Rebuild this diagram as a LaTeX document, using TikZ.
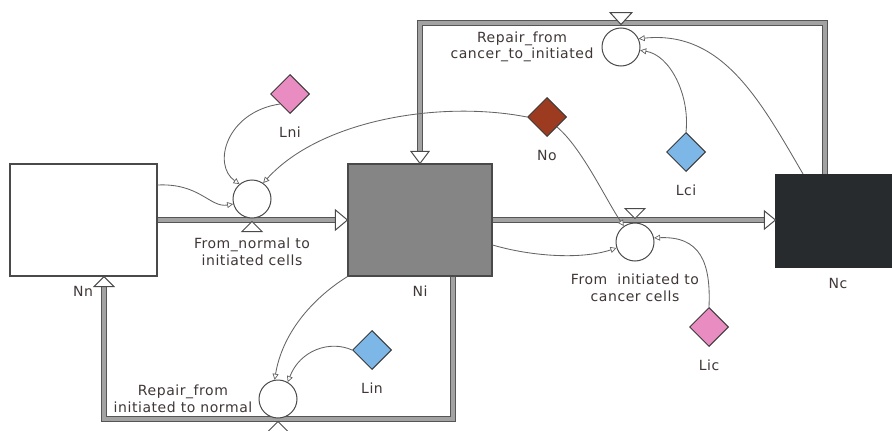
\documentclass[tikz,border=0pt]{standalone}
\usepackage{fontspec}
\setmainfont{DejaVu Sans}[LetterSpace=4]
\usetikzlibrary{shapes.geometric,arrows.meta,calc}

\definecolor{txt}{HTML}{403636}
\definecolor{edge}{HTML}{4A4A4A}
\definecolor{pipeedge}{HTML}{555555}
\definecolor{pipefill}{HTML}{A2A2A2}
\definecolor{conncol}{HTML}{646464}
\definecolor{stockgray}{HTML}{858585}
\definecolor{stockdark}{HTML}{272B2D}
\definecolor{auxpink}{HTML}{E98CC2}
\definecolor{auxblue}{HTML}{7DB7E8}
\definecolor{auxbrown}{HTML}{9C3B1F}

\tikzset{
  stock/.style={rectangle, draw=edge, line width=1.1pt, inner sep=0pt},
  valve/.style={circle, draw=edge, fill=white, line width=1pt, minimum size=38pt, inner sep=0pt},
  aux/.style={diamond, draw=edge!80!black, line width=1pt, minimum size=39pt, inner sep=0pt},
  pipe/.style={draw=pipeedge, line width=1pt, double=pipefill, double distance=3.6pt, line join=miter},
  pipetip/.style={draw=edge, fill=white, line width=1pt, line join=miter},
  conn/.style={draw=conncol, line width=0.85pt, -{Triangle[fill=white, length=6pt, width=6pt, line width=0.7pt]}},
  lbl/.style={text=txt, font=\fontsize{14}{16.5}\selectfont, align=center, inner sep=0pt},
}

\begin{document}
\begin{tikzpicture}[x=1pt, y=-1pt]
\useasboundingbox (0,0) rectangle (892,431);

% stocks
\node[stock, fill=white, minimum width=147pt, minimum height=112pt] (Nn) at (83.5,220) {};
\node[stock, fill=stockgray, minimum width=144pt, minimum height=112pt] (Ni) at (420,220) {};
\node[stock, fill=stockdark, draw=stockdark, minimum width=120pt, minimum height=93pt] (Nc) at (836,221) {};

% pipe corner points
\coordinate (topR) at (825,23);
\coordinate (topL) at (420,23);
\coordinate (botR) at (453,419);
\coordinate (botL) at (104,419);

% flows (pipes)
\draw[pipe] (Nn.east) -- ([xshift=-12pt]Ni.west);
\draw[pipe] (Ni.east) -- ([xshift=-11pt]Nc.west |- Ni.east);
\draw[pipe] (topR |- Nc.north) -- (topR) -- (topL) -- ([yshift=12pt]Ni.north);
\draw[pipe] (botR |- Ni.south) -- (botR) -- (botL) -- ([xshift=20.5pt, yshift=-10pt]Nn.south);

% pipe heads at the stocks
\draw[pipetip] (Ni.west) -- ++(-12,-10) -- ++(0,20) -- cycle;
\draw[pipetip] (Nc.west |- Ni.east) -- ++(-11,-9) -- ++(0,18) -- cycle;
\draw[pipetip] (Ni.north) -- ++(-9,-12) -- ++(18,0) -- cycle;
\draw[pipetip] ([xshift=20.5pt]Nn.south) -- ++(-10,10) -- ++(20,0) -- cycle;

% valves
\node[valve] (v1) at (252,199) {};
\node[valve] (v2) at (635,242) {};
\node[valve] (v3) at (621,47) {};
\node[valve] (v4) at (278,399) {};

\draw[pipetip] ([yshift=-3pt]v1.south) -- ++(-10,10) -- ++(20,0) -- cycle;
\draw[pipetip] ([yshift=4pt]v2.north) -- ++(-10,-10) -- ++(20,0) -- cycle;
\draw[pipetip] ([yshift=3pt]v3.north) -- ++(-11,-12) -- ++(22,0) -- cycle;
\draw[pipetip] ([yshift=-3pt]v4.south) -- ++(-10,10) -- ++(20,0) -- cycle;

% auxiliaries
\node[aux, fill=auxpink] (Lni) at (290,94) {};
\node[aux, fill=auxbrown] (No) at (547,117) {};
\node[aux, fill=auxblue] (Lci) at (686,152) {};
\node[aux, fill=auxblue] (Lin) at (372,350) {};
\node[aux, fill=auxpink] (Lic) at (709,327) {};

% information links
\draw[conn] ([yshift=35pt]Nn.east) .. controls (200,183) and (210,208) .. (v1.195);
\draw[conn] (Lni.south west) .. controls (226,112) and (212,165) .. (v1.130);
\draw[conn] (No.west) .. controls (440,100) and (320,120) .. (v1.55);
\draw[conn] (No.south east) .. controls (582,148) and (606,200) .. (v2.125);
\draw[conn] ([yshift=-25pt]Ni.east) .. controls (530,256) and (580,260) .. (v2.198);
\draw[conn] (Lic.north) .. controls (711,262) and (700,236) .. (v2.12);
\draw[conn] (Lci.north) .. controls (690,95) and (670,55) .. (v3.350);
\draw[conn] ([xshift=-33pt]Nc.north) .. controls (760,100) and (722,30) .. (v3.25);
\draw[conn] (Ni.south west) .. controls (310,300) and (282,335) .. (v4.100);
\draw[conn] (Lin.west) .. controls (330,340) and (300,350) .. (v4.60);

% labels
\node[lbl] (tNn) at (83,291) {Nn};
\node[lbl] (tNi) at (420,291) {Ni};
\node[lbl] (tNc) at (838,283) {Nc};
\node[lbl] (tLni) at (290,132) {Lni};
\node[lbl] (tNo) at (547,155) {No};
\node[lbl] (tLci) at (686,190) {Lci};
\node[lbl] (tLin) at (372,388) {Lin};
\node[lbl] (tLic) at (709,365) {Lic};
\node[lbl] (t1) at (252,252) {From\_normal to\\initiated cells};
\node[lbl] (t2) at (635,288) {From\ \ initiated to\\cancer cells};
\node[lbl] (t3) at (522,47) {Repair\_from\\cancer\_to\_initiated};
\node[lbl] (t4) at (183,399) {Repair\_from\\initiated to normal};
\end{tikzpicture}
\end{document}
